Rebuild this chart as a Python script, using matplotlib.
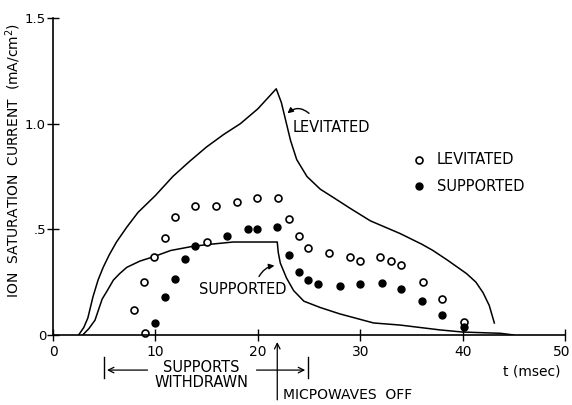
import numpy as np
import matplotlib
matplotlib.use('Agg')
import matplotlib.pyplot as plt
from matplotlib import transforms

# curves (t in msec, current in mA/cm2)
lev_curve_t = [2.5, 3.0, 3.4, 3.9, 4.4, 4.9, 5.5, 6.2, 7.2, 8.3, 10.0, 11.7, 13.3,
               15.0, 16.7, 18.3, 20.0, 21.8, 22.3, 22.7, 23.2, 23.8, 24.8, 26.1,
               27.4, 29.0, 31.0, 33.9, 36.0, 37.1, 38.5, 40.4, 41.3, 42.0, 42.6, 43.1]
lev_curve_y = [0.0, 0.035, 0.08, 0.18, 0.26, 0.32, 0.38, 0.44, 0.51, 0.58, 0.66, 0.75, 0.82,
               0.89, 0.95, 1.0, 1.07, 1.165, 1.10, 1.02, 0.92, 0.83, 0.75, 0.69,
               0.65, 0.60, 0.54, 0.48, 0.43, 0.40, 0.355, 0.29, 0.25, 0.20, 0.14, 0.057]

sup_curve_t = [2.9, 3.5, 4.1, 4.8, 5.3, 5.9, 6.5, 7.2, 8.5, 9.8, 11.5, 13.7, 15.5, 17.6,
               20.0, 21.9, 22.0, 22.2, 22.8, 23.5, 24.5, 26.1, 28.0, 31.3, 33.9, 37.8,
               40.0, 43.7, 45.0]
sup_curve_y = [0.0, 0.03, 0.07, 0.17, 0.21, 0.26, 0.29, 0.32, 0.35, 0.37, 0.40, 0.42, 0.43, 0.44,
               0.44, 0.44, 0.39, 0.34, 0.27, 0.21, 0.16, 0.13, 0.10, 0.057, 0.047, 0.024,
               0.014, 0.008, 0.0]

# measured points
lev_t = [7.9, 8.9, 9.0, 9.9, 10.9, 11.9, 13.9, 15.0, 15.9, 18.0, 19.9, 22.0, 23.0, 24.0,
         24.9, 27.0, 29.0, 30.0, 31.9, 33.0, 34.0, 36.1, 38.0, 40.1]
lev_y = [0.12, 0.25, 0.01, 0.37, 0.46, 0.56, 0.61, 0.44, 0.61, 0.63, 0.65, 0.65, 0.55, 0.47,
         0.41, 0.39, 0.37, 0.35, 0.37, 0.35, 0.33, 0.25, 0.17, 0.06]

sup_t = [10.0, 10.9, 11.9, 12.9, 13.9, 17.0, 19.0, 19.9, 21.9, 23.0, 24.0, 24.9, 25.9,
         28.0, 30.0, 32.1, 34.0, 36.0, 38.0, 40.1]
sup_y = [0.057, 0.18, 0.265, 0.36, 0.42, 0.47, 0.50, 0.50, 0.51, 0.38, 0.30, 0.26, 0.24,
         0.23, 0.24, 0.245, 0.22, 0.16, 0.095, 0.04]

x_ticks = [0, 10, 20, 30, 40, 50]
y_ticks = [0, 0.5, 1.0, 1.5]
y_ticklabels = ['0', '.5', '1.0', '1.5']

plt.rcParams['font.family'] = ['DejaVu Sans']

fig = plt.figure(figsize=(5.72, 4.05), dpi=100)
ax = fig.add_axes([53 / 572, 70 / 405, 512 / 572, 317 / 405])

ax.plot(lev_curve_t, lev_curve_y, color='black', lw=1.1)
ax.plot(sup_curve_t, sup_curve_y, color='black', lw=1.1)
ax.plot(lev_t, lev_y, 'o', ms=5, mfc='white', mec='black', mew=1.2, clip_on=False)
ax.plot(sup_t, sup_y, 'o', ms=5, mfc='black', mec='black', mew=1.0, clip_on=False)

ax.set_xlim(0, 50)
ax.set_ylim(0, 1.5)
ax.set_xticks(x_ticks)
ax.set_yticks(y_ticks)
ax.set_yticklabels(y_ticklabels)
ax.tick_params(direction='inout', length=8, width=1, labelsize=10, color='black')
ax.tick_params(axis='y', pad=1, labelsize=9.5)
ax.spines['top'].set_visible(False)
ax.spines['right'].set_visible(False)
for s in ['left', 'bottom']:
    ax.spines[s].set_linewidth(1.2)

# keep the last x label inside the picture
last = ax.get_xticklabels()[-1]
last.set_transform(last.get_transform() + transforms.ScaledTranslation(-3 / 100, 0, fig.dpi_scale_trans))

fig.text(13 / 572, 1 - 160 / 405, 'ION  SATURATION  CURRENT  (mA/cm$^2$)', fontsize=10,
         rotation=90, ha='center', va='center')

# curve labels
ax.text(23.4, 0.98, 'LEVITATED', fontsize=10.5, va='center', ha='left')
ax.annotate('', xy=(22.7, 1.04), xytext=(25.2, 1.04),
            arrowprops=dict(arrowstyle='-|>', color='black', lw=1,
                            connectionstyle='arc3,rad=0.5', mutation_scale=8))
ax.text(14.3, 0.213, 'SUPPORTED', fontsize=10.5, va='center', ha='left')
ax.annotate('', xy=(21.9, 0.33), xytext=(20.0, 0.265),
            arrowprops=dict(arrowstyle='-|>', color='black', lw=1,
                            connectionstyle='arc3,rad=-0.3', mutation_scale=8))

# legend drawn by hand
ax.plot([35.7], [0.83], 'o', ms=5, mfc='white', mec='black', mew=1.2)
ax.plot([35.7], [0.705], 'o', ms=5, mfc='black', mec='black')
ax.text(37.5, 0.83, 'LEVITATED', fontsize=10.5, va='center')
ax.text(37.5, 0.705, 'SUPPORTED', fontsize=10.5, va='center')

# annotations below the axis
ax.text(46.8, -0.175, 't (msec)', fontsize=10, ha='center', va='center')
ax.text(14.5, -0.19, 'SUPPORTS\nWITHDRAWN', fontsize=10.5, ha='center', va='center',
        linespacing=0.95)
ax.annotate('', xy=(5.0, -0.166), xytext=(9.5, -0.166), annotation_clip=False,
            arrowprops=dict(arrowstyle='->', color='black', lw=0.9))
ax.annotate('', xy=(24.9, -0.166), xytext=(19.6, -0.166), annotation_clip=False,
            arrowprops=dict(arrowstyle='->', color='black', lw=0.9))
ax.plot([5.0, 5.0], [-0.104, -0.204], color='black', lw=1, clip_on=False)
ax.plot([24.9, 24.9], [-0.104, -0.204], color='black', lw=1, clip_on=False)
ax.annotate('', xy=(21.9, -0.02), xytext=(21.9, -0.32), annotation_clip=False,
            arrowprops=dict(arrowstyle='->', color='black', lw=0.9))
ax.text(22.5, -0.285, 'MICPOWAVES  OFF', fontsize=10, ha='left', va='center')

fig.savefig('out.png', dpi=100)
